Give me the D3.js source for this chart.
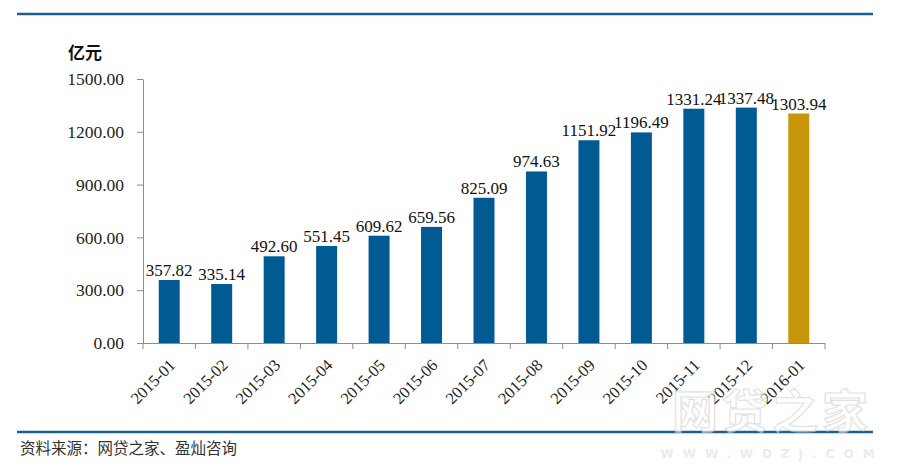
<!DOCTYPE html>
<html>
<head>
<meta charset="utf-8">
<script src="https://cdn.jsdelivr.net/npm/d3@7"></script>
<style>
  html, body { margin: 0; padding: 0; background: #fff; }
  svg { display: block; }
</style>
</head>
<body>
<svg id="chart" width="900" height="472"></svg>
<script>
const categories = ["2015-01","2015-02","2015-03","2015-04","2015-05","2015-06","2015-07","2015-08","2015-09","2015-10","2015-11","2015-12","2016-01"];
const values = [357.82, 335.14, 492.60, 551.45, 609.62, 659.56, 825.09, 974.63, 1151.92, 1196.49, 1331.24, 1337.48, 1303.94];
const yTicks = [0, 300, 600, 900, 1200, 1500];
const unitLabel = "亿元";
const sourceText = "资料来源：网贷之家、盈灿咨询";
const highlightCategory = "2016-01";

(function () {
const svg = d3.select("#chart");
const mLeft = 143, mRight = 825, mTop = 79, mBottom = 343;
const blue = "#005b93", gold = "#c8960a", lineBlue = "#1d5f8e";
const serif = "'Liberation Serif','Times New Roman',serif";
const cjk = "'Noto Sans CJK SC','Noto Sans',sans-serif";

// top rule
svg.append("line").attr("x1", 17).attr("x2", 873).attr("y1", 14).attr("y2", 14)
  .attr("stroke", lineBlue).attr("stroke-width", 2.5);

const x = d3.scaleBand().domain(categories).range([mLeft, mRight])
  .paddingInner(0.6).paddingOuter(0.3);
const y = d3.scaleLinear().domain([0, 1500]).range([mBottom, mTop]);

// y axis
const yAxis = svg.append("g").attr("transform", `translate(${mLeft},0)`)
  .call(d3.axisLeft(y).tickValues(yTicks).tickFormat(d3.format(".2f"))
    .tickSize(6).tickSizeOuter(0).tickPadding(13));
yAxis.select(".domain").attr("stroke", "#8c8c8c");
yAxis.selectAll(".tick line").attr("stroke", "#8c8c8c");
yAxis.selectAll(".tick text").attr("font-family", serif).attr("font-size", 17.5).attr("fill", "#222");

// unit label
svg.append("text").attr("x", 68).attr("y", 59).text(unitLabel)
  .attr("font-family", cjk).attr("font-size", 17).attr("font-weight", "bold").attr("fill", "#111");

// bars
svg.append("g").selectAll("rect").data(categories).join("rect")
  .attr("x", d => x(d))
  .attr("y", (d, i) => y(values[i]))
  .attr("width", x.bandwidth())
  .attr("height", (d, i) => y(0) - y(values[i]))
  .attr("fill", d => d === highlightCategory ? gold : blue);

// x axis line and boundary ticks
const step = x.step(), gap = step - x.bandwidth();
const xg = svg.append("g");
xg.append("line").attr("x1", mLeft).attr("x2", mRight).attr("y1", mBottom + 0.5).attr("y2", mBottom + 0.5)
  .attr("stroke", "#8c8c8c");
const bounds = categories.map(d => x(d) - gap / 2).concat([mRight]);
xg.selectAll("line.tk").data(bounds).join("line").attr("class", "tk")
  .attr("x1", d => d).attr("x2", d => d).attr("y1", mBottom).attr("y2", mBottom + 6)
  .attr("stroke", "#8c8c8c");

// x labels
xg.selectAll("text").data(categories).join("text")
  .attr("transform", d => `translate(${x(d) + x.bandwidth() / 2 + 3},${mBottom + 19}) rotate(-45)`)
  .attr("text-anchor", "end").attr("dy", "0.35em")
  .attr("font-family", serif).attr("font-size", 16.5).attr("fill", "#222")
  .text(d => d);

// value labels
svg.append("g").selectAll("text").data(categories).join("text")
  .attr("x", d => x(d) + x.bandwidth() / 2)
  .attr("y", (d, i) => y(values[i]) - 4)
  .attr("text-anchor", "middle")
  .attr("font-family", serif).attr("font-size", 17).attr("fill", "#111")
  .text((d, i) => values[i].toFixed(2));

// bottom rule & source
svg.append("line").attr("x1", 17).attr("x2", 873).attr("y1", 432).attr("y2", 432)
  .attr("stroke", lineBlue).attr("stroke-width", 2.5);
svg.append("text").attr("x", 20).attr("y", 454).text(sourceText)
  .attr("font-family", cjk).attr("font-size", 15.5).attr("fill", "#333");

// watermark
const wm = svg.append("g").attr("opacity", 0.6);
wm.append("text").attr("x", 772).attr("y", 428).attr("text-anchor", "middle")
  .attr("font-family", cjk).attr("font-size", 46).attr("font-weight", "bold")
  .attr("letter-spacing", 4)
  .attr("fill", "#fff").attr("stroke", "#cfcfcf").attr("stroke-width", 1.2)
  .text("网贷之家");
wm.append("text").attr("x", 772).attr("y", 458).attr("text-anchor", "middle")
  .attr("font-family", "'DejaVu Sans',sans-serif").attr("font-size", 12).attr("font-weight", "bold")
  .attr("letter-spacing", 9).attr("fill", "#e0e0e0")
  .text("WWW.WDZJ.COM");
})();
</script>
</body>
</html>
